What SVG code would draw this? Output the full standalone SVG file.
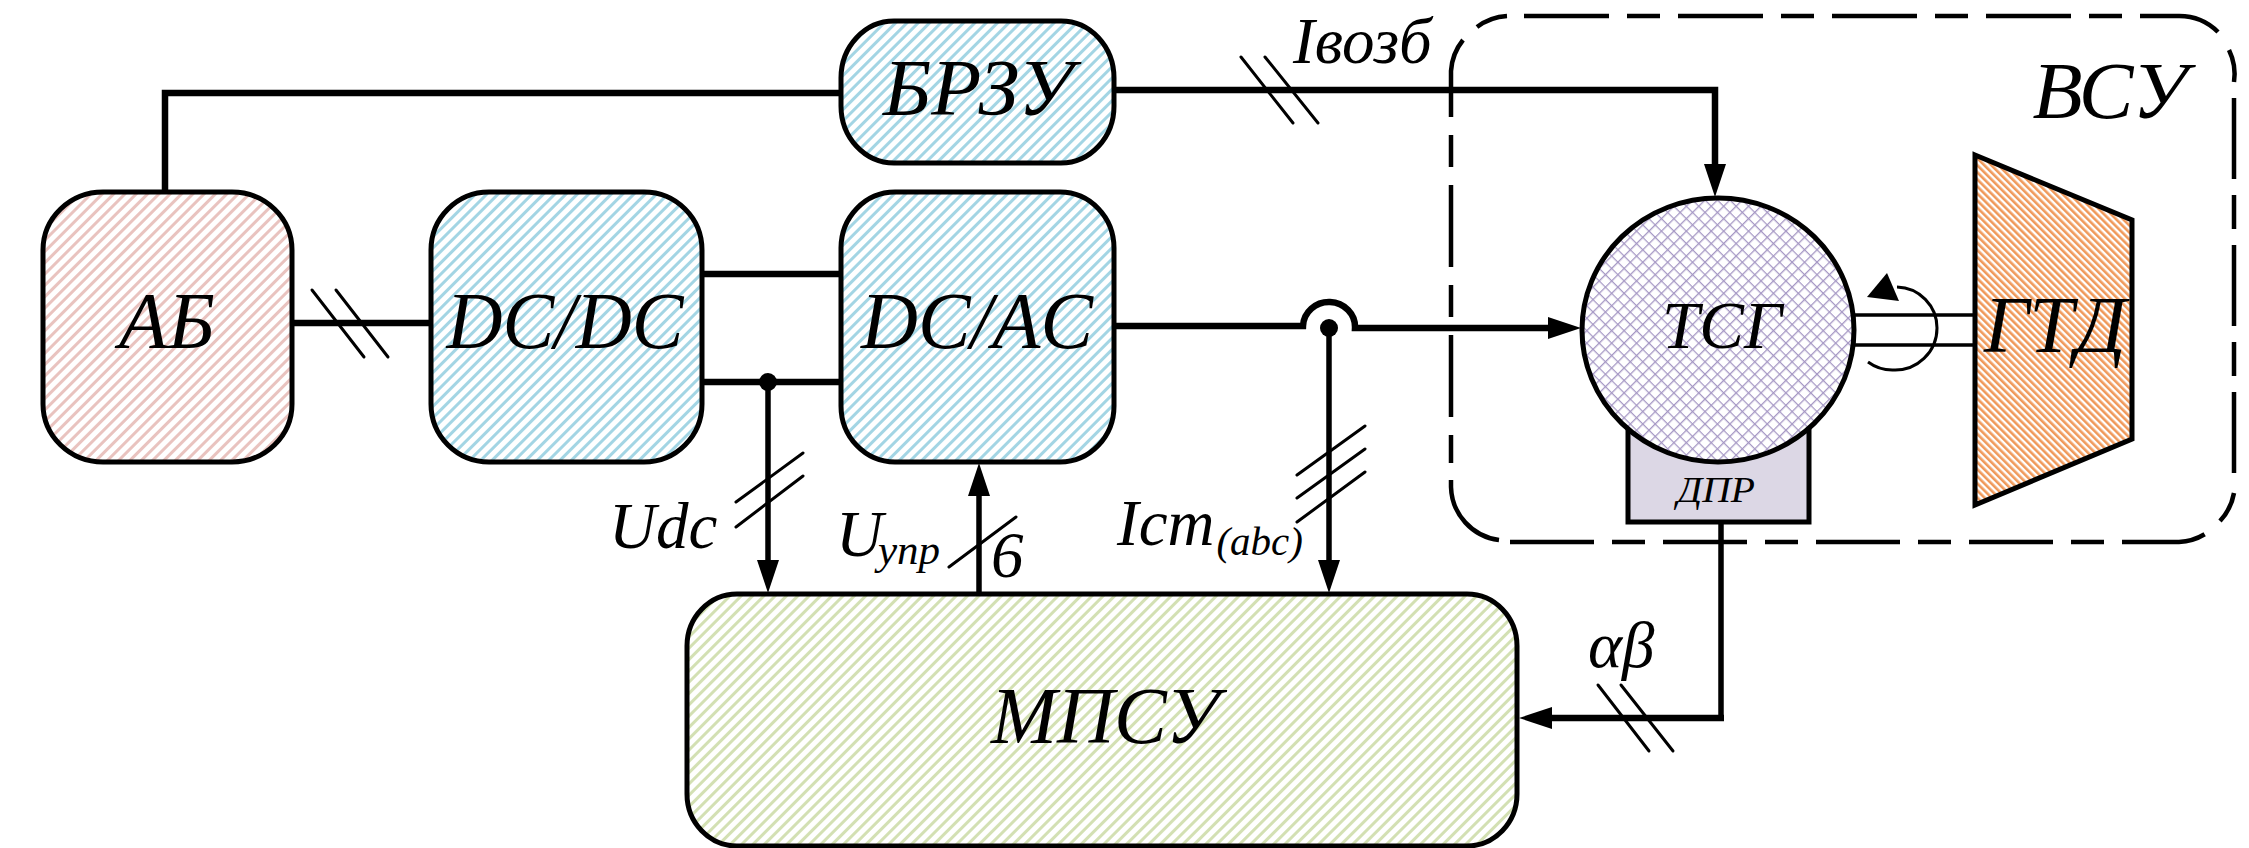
<svg xmlns="http://www.w3.org/2000/svg" width="2249" height="848" viewBox="0 0 2249 848">
<defs>
<pattern id="hPink" width="8" height="8" patternUnits="userSpaceOnUse" patternTransform="rotate(45)"><rect width="8" height="8" fill="#fff"/><rect width="3" height="8" fill="#e9c3bf"/></pattern>
<pattern id="hBlue" width="8" height="8" patternUnits="userSpaceOnUse" patternTransform="rotate(45)"><rect width="8" height="8" fill="#fff"/><rect width="3" height="8" fill="#a3d5e4"/></pattern>
<pattern id="hGreen" width="8" height="8" patternUnits="userSpaceOnUse" patternTransform="rotate(45)"><rect width="8" height="8" fill="#fff"/><rect width="3" height="8" fill="#d3e0b3"/></pattern>
<pattern id="hOrange" width="5" height="5" patternUnits="userSpaceOnUse" patternTransform="rotate(-45)"><rect width="5" height="5" fill="#fff"/><rect width="2.6" height="5" fill="#f0995a"/></pattern>
<pattern id="hCross" width="8.8" height="8.8" patternUnits="userSpaceOnUse" patternTransform="rotate(45)"><rect width="8.8" height="8.8" fill="#fff"/><path d="M0 0H8.8M0 0V8.8" stroke="#a597c4" stroke-width="2.6" fill="none"/></pattern>
<marker id="arr" markerUnits="userSpaceOnUse" viewBox="0 0 33 22" markerWidth="33" markerHeight="22" refX="13" refY="11" orient="auto"><path d="M0 0L33 11L0 22Z" fill="#000"/></marker>
</defs>
<style>
.w{fill:none;stroke:#000;stroke-width:6.5}
.n{fill:none;stroke:#000;stroke-width:5.5}
.t{fill:none;stroke:#000;stroke-width:3;stroke-linecap:round}
.b{stroke:#000;stroke-width:5}
.d{fill:none;stroke:#000;stroke-width:4.5}
text{font-family:"Liberation Serif","Times New Roman",serif;font-style:italic;fill:#000;font-size:80px}
.m{text-anchor:middle}
.l{font-size:65px}
</style>
<rect width="2249" height="848" fill="#fff"/>
<g id="vsu-boundary">
<path class="d" d="M1524 16H2179A55 55 0 0 1 2218 32" stroke-dasharray="85 18 33 18"/>
<path class="d" d="M2229 50A55 55 0 0 1 2234 82"/>
<path class="d" d="M2234 98V475" stroke-dasharray="81 16 34 16"/>
<path class="d" d="M2234 493A55 55 0 0 1 2220 521"/>
<path class="d" d="M1510 542H2179A55 55 0 0 0 2205 534" stroke-dasharray="84 18 33 18"/>
<path class="d" d="M1451 135V463" stroke-dasharray="32 18 82 18"/>
<path class="d" d="M1451 480V487A55 55 0 0 0 1499 540"/>
<path class="d" d="M1451 117V71A55 55 0 0 1 1463 40"/>
<path class="d" d="M1477 27A55 55 0 0 1 1507 16"/>
<text class="m" x="2110" y="118" textLength="155" lengthAdjust="spacingAndGlyphs">ВСУ</text>
</g>
<g id="connectors">
<path class="w" d="M165 192V93H841"/>
<path class="w" d="M1114 90H1715V177" marker-end="url(#arr)"/>
<path class="w" d="M292 323H431"/>
<path class="w" d="M702 274H841M702 382H841"/>
<path class="n" d="M768 382V573" marker-end="url(#arr)"/>
<path class="n" d="M979 594V483" marker-end="url(#arr)"/>
<path class="n" d="M1329 328V573" marker-end="url(#arr)"/>
<path class="w" d="M1114 326H1303A26 25 0 0 1 1355 328H1561" marker-end="url(#arr)"/>
<path class="n" d="M1721 522V718"/>
<path class="w" d="M1724 718H1539" marker-end="url(#arr)"/>
<circle cx="768" cy="382" r="9"/>
<circle cx="1329" cy="328" r="9"/>
<path class="t" d="M312 290L364 357M336 290L388 357"/>
<path class="t" d="M1241 57L1293 123M1265 57L1318 123"/>
<path class="t" d="M736 502L803 453M736 527L803 476"/>
<path class="t" d="M949 567L1016 517"/>
<path class="t" d="M1297 475L1365 426M1297 498L1365 449M1297 522L1365 472"/>
<path class="t" d="M1598 685L1649 751M1621 685L1673 751"/>
</g>
<g id="node-ab"><rect class="b" x="43" y="192" width="249" height="270" rx="60" ry="58" fill="url(#hPink)"/><text class="m" x="167" y="348" textLength="96" lengthAdjust="spacingAndGlyphs">АБ</text></g>
<g id="node-dcdc"><rect class="b" x="431" y="192" width="271" height="270" rx="58" ry="58" fill="url(#hBlue)"/><text class="m" x="565" y="348" textLength="237" lengthAdjust="spacingAndGlyphs">DC/DC</text></g>
<g id="node-dcac"><rect class="b" x="841" y="192" width="273" height="270" rx="54" ry="56" fill="url(#hBlue)"/><text class="m" x="977" y="348" textLength="232" lengthAdjust="spacingAndGlyphs">DC/AC</text></g>
<g id="node-brzu"><rect class="b" x="841" y="21" width="273" height="142" rx="53" ry="57" fill="url(#hBlue)"/><text class="m" x="978" y="115" textLength="190" lengthAdjust="spacingAndGlyphs">БРЗУ</text></g>
<g id="node-mpsu"><rect class="b" x="687" y="594" width="830" height="252" rx="50" ry="52" fill="url(#hGreen)"/><text class="m" x="1105" y="743" textLength="228" lengthAdjust="spacingAndGlyphs">МПСУ</text></g>
<g id="node-dpr"><rect class="b" x="1628" y="420" width="181" height="102" fill="#dcd7e5"/><text class="m" x="1716" y="502" style="font-size:36px" textLength="78" lengthAdjust="spacingAndGlyphs">ДПР</text></g>
<g id="node-tsg"><ellipse class="b" cx="1718" cy="330" rx="136" ry="132" fill="url(#hCross)"/><text class="m" x="1722" y="348" style="font-size:68px" textLength="120" lengthAdjust="spacingAndGlyphs">ТСГ</text></g>
<g id="node-gtd"><path class="b" d="M1975 155L2132 220V439L1975 505Z" fill="url(#hOrange)"/><text class="m" x="2055" y="352" textLength="142" lengthAdjust="spacingAndGlyphs">ГТД</text></g>
<g id="shaft">
<path d="M1855 315H1975M1855 345H1975" fill="none" stroke="#000" stroke-width="3.5"/>
<path d="M1868 362A41 41 0 0 0 1893 370A42 42 0 0 0 1937 328A41 41 0 0 0 1897 287" fill="none" stroke="#000" stroke-width="3"/>
<path d="M1887 273L1867 297L1899 301Z"/>
</g>
<g id="labels">
<text class="l" x="1293" y="63">Iвозб</text>
<text class="l" x="609" y="548">Udc</text>
<text class="l" x="836" y="556">U<tspan dx="-5" dy="8" style="font-size:43px">упр</tspan></text>
<text class="l" x="991" y="577">6</text>
<text class="l" x="1117" y="545">Icm<tspan dx="2" dy="10" style="font-size:41px">(abc)</tspan></text>
<text class="l" x="1588" y="667">αβ</text>
</g>
</svg>
